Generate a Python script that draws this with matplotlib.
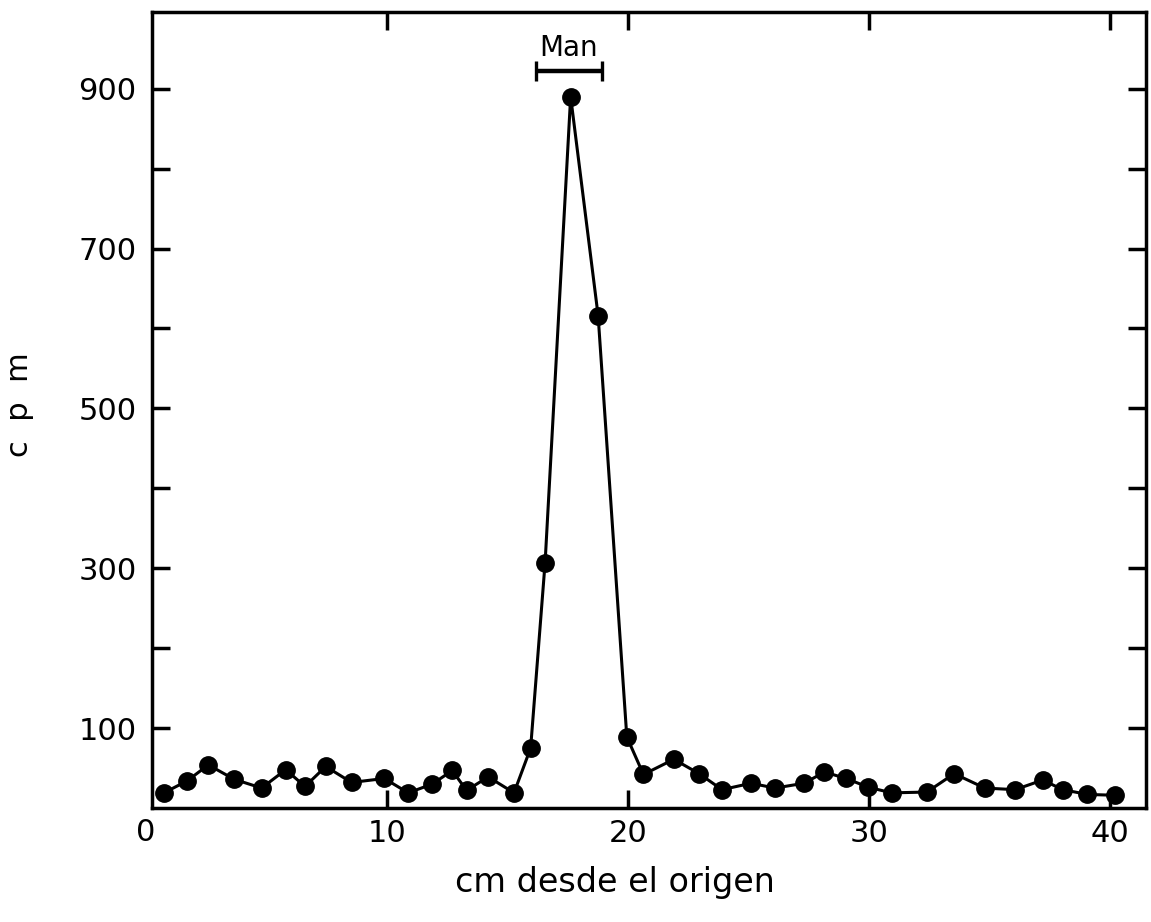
import matplotlib.pyplot as plt
from matplotlib import transforms

# posicion (cm desde el origen) y cuentas por minuto
dist = [0.75, 1.71, 2.59, 3.66, 4.8, 5.8, 6.6, 7.46, 8.53, 9.89,
        10.88, 11.88, 12.71, 13.3, 14.2, 15.27, 15.96, 16.56, 17.62, 18.76,
        19.95, 20.64, 21.9, 22.95, 23.9, 25.1, 26.1, 27.3, 28.15, 29.05,
        29.97, 30.94, 32.4, 33.53, 34.8, 36.06, 37.2, 38.04, 39.06, 40.2]
cpm = [19, 34, 54, 36, 25, 48, 27, 52, 32, 37,
       19, 30, 47, 22, 39, 19, 75, 307, 890, 616,
       89, 42, 61, 43, 23, 31, 25, 31, 45, 37,
       26, 19, 20, 43, 25, 23, 35, 23, 17, 16]

# zona de la manosa
man_start = 16.2
man_end = 18.9
man_y = 922

yticks = [100, 200, 300, 400, 500, 600, 700, 800, 900]
ylabels = ['100', '', '300', '', '500', '', '700', '', '900']
xticks = [10, 20, 30, 40]

fig = plt.figure(figsize=(11.51, 9.22), dpi=100)
ax = fig.add_axes([0.132, 0.1236, 0.8637, 0.8634])

ax.plot(dist, cpm, color='black', lw=2.2, marker='o', ms=12.5, zorder=3)

# barra "Man"
ax.errorbar((man_start + man_end) / 2, man_y, xerr=(man_end - man_start) / 2,
            fmt='none', ecolor='black', elinewidth=3.2, capsize=7, capthick=2.4,
            clip_on=False)
ax.text((man_start + man_end) / 2, man_y + 12, 'Man', ha='center', va='bottom',
        fontsize=20)

ax.set_xlim(0.25, 41.49)
ax.set_ylim(0, 996)
ax.set_xticks(xticks)
ax.set_yticks(yticks)
ax.set_yticklabels(ylabels)

for s in ax.spines.values():
    s.set_linewidth(2.5)
ax.tick_params(direction='in', length=13, width=2.5, labelsize=22,
               top=True, right=True)
ax.tick_params(axis='y', pad=11)
ax.tick_params(axis='x', pad=8)

# el cero comun de ambos ejes
tr = transforms.blended_transform_factory(ax.transData, ax.transAxes)
ax.text(0.0, -0.012, '0', transform=tr, ha='center', va='top', fontsize=22)

fig.text(20 / 1151, 1 - 405 / 922, 'c  p  m', rotation=90, ha='center',
         va='center', fontsize=22)
fig.text(615 / 1151, 1 - 882 / 922, 'cm desde el origen', ha='center',
         va='center', fontsize=24)

plt.savefig('out.png')
